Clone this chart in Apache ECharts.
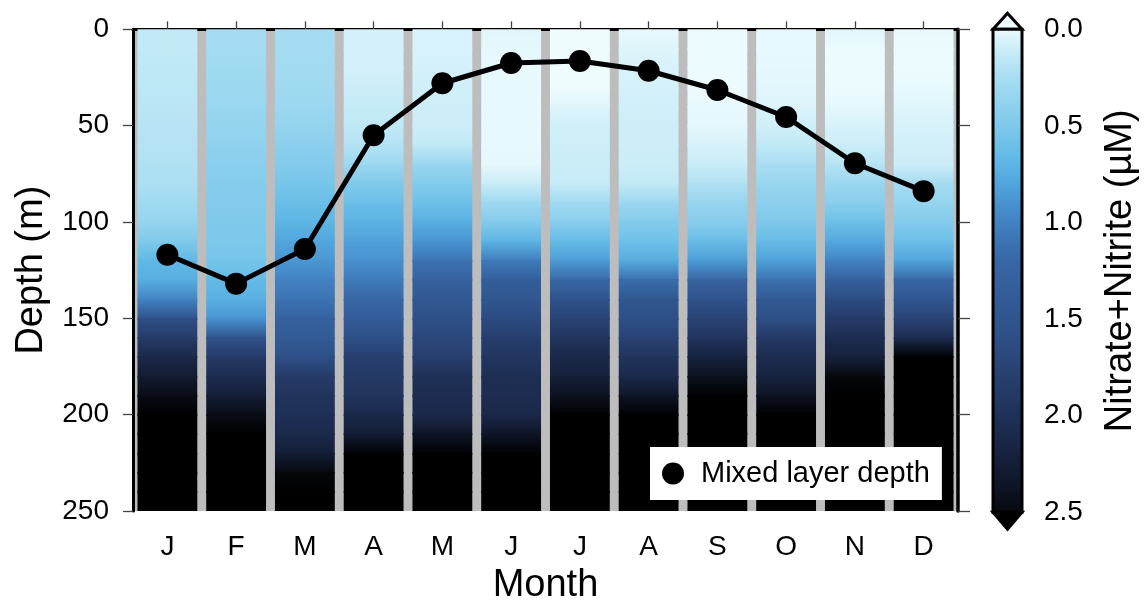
<!DOCTYPE html>
<html>
<head>
<meta charset="utf-8">
<script src="https://cdn.jsdelivr.net/npm/echarts@6/dist/echarts.min.js"></script>
<style>
  html, body { margin: 0; padding: 0; background: #ffffff; }
  #chart { width: 1145px; height: 610px; }
</style>
</head>
<body>
<div id="chart"></div>
<script>
// Month labels along the bottom axis
const months = ['J', 'F', 'M', 'A', 'M', 'J', 'J', 'A', 'S', 'O', 'N', 'D'];

// Depth levels (m) of each monthly nitrate+nitrite profile
const depths = [0, 10, 20, 30, 40, 50, 60, 70, 80, 90, 100, 110, 120,
                130, 140, 150, 160, 170, 180, 190, 200, 210, 220, 230, 240, 250];

// Monthly climatological nitrate+nitrite profiles (µM), one value per depth level
const nitrateJan = [0.15, 0.15, 0.16, 0.17, 0.18, 0.19, 0.20, 0.22, 0.24, 0.30, 0.36, 0.50, 0.68, 0.74, 1.00, 1.60, 1.85, 2.10, 2.28, 2.45, 2.60, 2.60, 2.60, 2.60, 2.60, 2.60];
const nitrateFeb = [0.27, 0.28, 0.30, 0.32, 0.34, 0.37, 0.40, 0.43, 0.46, 0.48, 0.50, 0.51, 0.55, 0.65, 0.74, 0.90, 1.55, 1.85, 2.05, 2.25, 2.45, 2.60, 2.60, 2.60, 2.60, 2.60];
const nitrateMar = [0.27, 0.28, 0.29, 0.30, 0.33, 0.37, 0.42, 0.48, 0.55, 0.62, 0.70, 0.80, 0.88, 1.00, 1.10, 1.30, 1.40, 1.60, 1.85, 1.95, 2.00, 2.10, 2.25, 2.50, 2.60, 2.60];
const nitrateApr = [0.08, 0.08, 0.08, 0.11, 0.13, 0.16, 0.20, 0.33, 0.50, 0.62, 0.72, 0.82, 0.92, 1.05, 1.22, 1.38, 1.60, 1.80, 1.88, 1.95, 2.10, 2.25, 2.55, 2.60, 2.60, 2.60];
const nitrateMay = [0.07, 0.07, 0.08, 0.09, 0.10, 0.10, 0.15, 0.35, 0.48, 0.60, 0.74, 0.90, 1.10, 1.30, 1.45, 1.60, 1.70, 1.80, 2.00, 2.05, 2.10, 2.35, 2.55, 2.60, 2.60, 2.60];
const nitrateJun = [0.04, 0.03, 0.02, 0.02, 0.02, 0.02, 0.02, 0.03, 0.12, 0.32, 0.47, 0.72, 1.05, 1.35, 1.48, 1.65, 1.82, 1.92, 2.03, 2.05, 2.12, 2.35, 2.55, 2.60, 2.60, 2.60];
const nitrateJul = [0.00, 0.00, 0.00, 0.00, 0.05, 0.09, 0.10, 0.11, 0.13, 0.30, 0.44, 0.66, 0.85, 1.20, 1.55, 1.75, 1.95, 2.10, 2.22, 2.40, 2.60, 2.60, 2.60, 2.60, 2.60, 2.60];
const nitrateAug = [0.02, 0.05, 0.07, 0.08, 0.09, 0.10, 0.10, 0.11, 0.15, 0.33, 0.47, 0.60, 0.76, 1.15, 1.48, 1.60, 1.75, 1.95, 2.10, 2.35, 2.60, 2.60, 2.60, 2.60, 2.60, 2.60];
const nitrateSep = [0.01, 0.01, 0.01, 0.01, 0.02, 0.03, 0.07, 0.12, 0.22, 0.36, 0.45, 0.64, 0.85, 1.25, 1.55, 1.75, 1.95, 2.18, 2.40, 2.60, 2.60, 2.60, 2.60, 2.60, 2.60, 2.60];
const nitrateOct = [0.02, 0.02, 0.03, 0.04, 0.06, 0.09, 0.15, 0.26, 0.35, 0.42, 0.50, 0.65, 0.82, 1.12, 1.45, 1.60, 1.88, 2.05, 2.18, 2.38, 2.60, 2.60, 2.60, 2.60, 2.60, 2.60];
const nitrateNov = [0.04, 0.01, 0.01, 0.01, 0.03, 0.07, 0.11, 0.20, 0.34, 0.44, 0.60, 0.78, 1.00, 1.30, 1.65, 1.85, 2.05, 2.20, 2.50, 2.60, 2.60, 2.60, 2.60, 2.60, 2.60, 2.60];
const nitrateDec = [0.02, 0.01, 0.01, 0.02, 0.05, 0.07, 0.09, 0.11, 0.28, 0.37, 0.47, 0.62, 0.80, 1.20, 1.50, 1.75, 2.05, 2.60, 2.60, 2.60, 2.60, 2.60, 2.60, 2.60, 2.60, 2.60];

// Monthly mixed layer depth (m)
const mixedLayerDepth = [117, 132, 114, 55, 28, 17.5, 16.5, 21.5, 31.5, 45.5, 69.5, 84];

// Colour scale for nitrate+nitrite (µM): stop values and their colours
const cmapValues = [0.0, 0.1, 0.25, 0.4, 0.5, 0.6, 0.7, 0.8, 0.9, 1.0, 1.1, 1.2, 1.4, 1.6, 1.8, 2.0, 2.2, 2.35, 2.5];
const cmapColors = ['#effcfe', '#cdeef8', '#a9def2', '#8fd1ee', '#7fc9eb', '#6dc0e8', '#5db6e4', '#51a5dc', '#4893d0',
                    '#4282c2', '#3c73b2', '#3867a5', '#325b96', '#2e4f87', '#273f6e', '#1f3057', '#16213c', '#0e1526', '#06080d'];
const colorMin = 0, colorMax = 2.5;
const overColor = '#000000';
const colorTicks = [0, 0.5, 1.0, 1.5, 2.0, 2.5];

const nitrateByMonth = [nitrateJan, nitrateFeb, nitrateMar, nitrateApr, nitrateMay, nitrateJun,
                        nitrateJul, nitrateAug, nitrateSep, nitrateOct, nitrateNov, nitrateDec];

function hexToRgb(h) {
  return [parseInt(h.slice(1, 3), 16), parseInt(h.slice(3, 5), 16), parseInt(h.slice(5, 7), 16)];
}
const cmapRgb = cmapColors.map(hexToRgb);

// Linear interpolation in the colour scale; values above the top get the overflow colour
function colorAt(v) {
  if (v > colorMax) return overColor;
  if (v <= cmapValues[0]) return cmapColors[0];
  for (let i = 1; i < cmapValues.length; i++) {
    if (v <= cmapValues[i]) {
      const t = (v - cmapValues[i - 1]) / (cmapValues[i] - cmapValues[i - 1]);
      const a = cmapRgb[i - 1], b = cmapRgb[i];
      const c = a.map((x, k) => Math.round(x + (b[k] - x) * t));
      return 'rgb(' + c.join(',') + ')';
    }
  }
  return cmapColors[cmapColors.length - 1];
}

// One segment per pair of neighbouring depth levels in each month
const profileSegments = [];
nitrateByMonth.forEach((profile, m) => {
  for (let k = 0; k < depths.length - 1; k++) {
    profileSegments.push([m, depths[k], depths[k + 1], profile[k], profile[k + 1]]);
  }
});

function renderSegment(params, api) {
  const m = api.value(0);
  const p0 = api.coord([m, api.value(1)]);
  const p1 = api.coord([m, api.value(2)]);
  const halfW = api.size([1, 0])[0] * 0.435;
  const y0 = Math.floor(p0[1]);
  const y1 = Math.ceil(p1[1]) + 1;
  return {
    type: 'rect',
    shape: { x: p0[0] - halfW, y: y0, width: halfW * 2, height: y1 - y0 },
    style: {
      fill: new echarts.graphic.LinearGradient(0, 0, 0, 1, [
        { offset: 0, color: colorAt(api.value(3)) },
        { offset: 1, color: colorAt(api.value(4)) }
      ])
    }
  };
}

// Colour bar with pointed overflow ends
function renderColorBar(params, api) {
  const cs = params.coordSys;
  const yTop = api.coord([0, colorMin])[1];
  const yBot = api.coord([0, colorMax])[1];
  const x0 = cs.x, x1 = cs.x + cs.width, xc = (x0 + x1) / 2;
  const stops = cmapValues.map((v, i) => ({ offset: (v - colorMin) / (colorMax - colorMin), color: cmapColors[i] }));
  return {
    type: 'group',
    children: [
      {
        type: 'polygon',
        shape: { points: [[x0, yTop], [x1, yTop], [xc, yTop - 16]] },
        style: { fill: cmapColors[0], stroke: '#000', lineWidth: 3, lineJoin: 'miter' }
      },
      {
        type: 'polygon',
        shape: { points: [[x0, yBot], [x1, yBot], [xc, yBot + 17]] },
        style: { fill: overColor, stroke: '#000', lineWidth: 3, lineJoin: 'miter' }
      },
      {
        type: 'rect',
        shape: { x: x0, y: yTop, width: x1 - x0, height: yBot - yTop },
        style: { fill: new echarts.graphic.LinearGradient(0, 0, 0, 1, stops), stroke: '#000', lineWidth: 3 }
      }
    ]
  };
}

const FONT = '"Liberation Sans", Arial, Helvetica, sans-serif';
const tickStyle = { color: '#444', width: 1.3 };

const chart = echarts.init(document.getElementById('chart'), null, { renderer: 'canvas' });

chart.setOption({
  animation: false,
  backgroundColor: '#ffffff',
  textStyle: { fontFamily: FONT, color: '#000' },
  grid: [
    { left: 133, top: 29.3, width: 825, height: 483, show: true, backgroundColor: '#bdbdbd', borderWidth: 0 },
    { left: 993, top: 29.3, width: 29, height: 483 }
  ],
  legend: {
    data: ['Mixed layer depth'],
    left: 650, top: 447,
    icon: 'circle', itemWidth: 22, itemHeight: 22,
    backgroundColor: '#ffffff', borderWidth: 0,
    padding: [12, 12, 12, 12],
    selectedMode: false,
    textStyle: { fontFamily: FONT, fontSize: 29, color: '#000', padding: [0, 0, 0, 12] }
  },
  xAxis: [
    {
      type: 'category', gridIndex: 0, data: months, position: 'bottom',
      name: 'Month', nameLocation: 'middle', nameGap: 56,
      nameTextStyle: { fontFamily: FONT, fontSize: 38, color: '#000' },
      axisLine: { show: true, lineStyle: { color: '#555', width: 1.5 } },
      axisTick: { show: true, alignWithLabel: true, interval: 0, length: 10, lineStyle: tickStyle },
      axisLabel: { fontFamily: FONT, fontSize: 28, color: '#000', margin: 22, interval: 0 },
      splitLine: { show: false }
    },
    {
      type: 'category', gridIndex: 0, data: months, position: 'top',
      axisLine: { show: true, lineStyle: { color: '#000', width: 3 } },
      axisTick: { show: true, alignWithLabel: true, interval: 0, length: 8, lineStyle: tickStyle },
      axisLabel: { show: false },
      splitLine: { show: false }
    },
    {
      type: 'value', gridIndex: 1, min: 0, max: 1, show: false
    }
  ],
  yAxis: [
    {
      type: 'value', gridIndex: 0, inverse: true, min: 0, max: 250, interval: 50, position: 'left',
      name: 'Depth (m)', nameLocation: 'middle', nameGap: 82, nameRotate: 90,
      nameTextStyle: { fontFamily: FONT, fontSize: 38, color: '#000' },
      axisLine: { show: true, lineStyle: { color: '#000', width: 3 } },
      axisTick: { show: true, length: 10, lineStyle: tickStyle },
      axisLabel: { fontFamily: FONT, fontSize: 28, color: '#000', margin: 24 },
      splitLine: { show: false }
    },
    {
      type: 'value', gridIndex: 0, inverse: true, min: 0, max: 250, interval: 50, position: 'right',
      axisLine: { show: true, lineStyle: { color: '#000', width: 3.5 } },
      axisTick: { show: true, length: 12, lineStyle: tickStyle },
      axisLabel: { show: false },
      splitLine: { show: false }
    },
    {
      type: 'value', gridIndex: 1, inverse: true, min: colorMin, max: colorMax, interval: 0.5, position: 'right',
      name: 'Nitrate+Nitrite (µM)', nameLocation: 'middle', nameGap: 80, nameRotate: 90,
      nameTextStyle: { fontFamily: FONT, fontSize: 38, color: '#000' },
      axisLine: { show: false },
      axisTick: { show: true, length: 11, lineStyle: tickStyle },
      axisLabel: {
        fontFamily: FONT, fontSize: 28, color: '#000', margin: 22,
        formatter: v => colorTicks.includes(v) ? v.toFixed(1) : ''
      },
      splitLine: { show: false }
    }
  ],
  series: [
    {
      name: 'Nitrate+Nitrite',
      type: 'custom',
      xAxisIndex: 0, yAxisIndex: 0,
      renderItem: renderSegment,
      data: profileSegments,
      encode: { x: 0, y: 1 },
      clip: true,
      silent: true,
      z: 1
    },
    {
      name: 'Mixed layer depth',
      type: 'line',
      xAxisIndex: 0, yAxisIndex: 0,
      data: mixedLayerDepth.map((d, i) => [i, d]),
      symbol: 'circle', symbolSize: 22,
      lineStyle: { color: '#000', width: 5 },
      itemStyle: { color: '#000' },
      z: 5
    },
    {
      name: 'colorbar',
      type: 'custom',
      xAxisIndex: 2, yAxisIndex: 2,
      renderItem: renderColorBar,
      data: [[0, 0]],
      clip: false,
      silent: true
    }
  ]
});
</script>
</body>
</html>
